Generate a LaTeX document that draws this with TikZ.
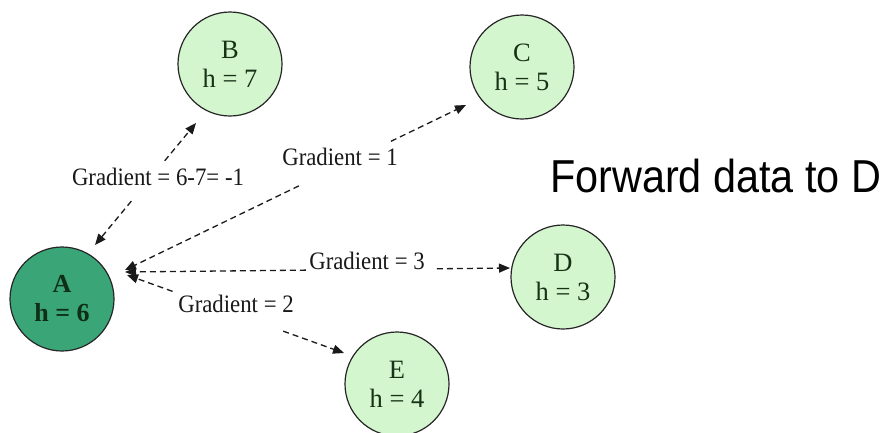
\documentclass[tikz,border=0pt]{standalone}
\usepackage{fontspec}
\setmainfont{Liberation Serif}
\newfontfamily\sansf{Liberation Sans}
\usetikzlibrary{arrows.meta,calc}
\definecolor{lightnode}{HTML}{D4F6CF}
\definecolor{darknode}{HTML}{3AA577}
\definecolor{nodetext}{HTML}{163316}
\definecolor{darktext}{HTML}{0E2E16}
\definecolor{edgecol}{HTML}{1A1A1A}
\newcommand{\tallish}[1]{\scalebox{1}[1.1]{#1}}
\begin{document}
\begin{tikzpicture}[x=1pt,y=-1pt,
  state/.style={circle,draw=black!85,line width=1.2pt,minimum size=104pt,inner sep=0pt,
    align=center,text=nodetext,font=\fontsize{26.5}{29}\selectfont},
  light/.style={state,fill=lightnode},
  dark/.style={state,fill=darknode,text=darktext,font=\fontsize{26}{29}\selectfont\bfseries},
  edge/.style={draw=edgecol,line width=1.3pt,dash pattern=on 6pt off 4pt,
    arrows={-Triangle[length=11pt,width=9pt]}},
  glabel/.style={font=\fontsize{22.8}{24}\selectfont,text=black!90,inner sep=0pt}
]
\useasboundingbox (0,0) rectangle (885,432);
\fill[white] (0,0) rectangle (885,432);

% nodes
\node[dark]  (A) at (62,299)  {A\\h = 6};
\node[light] (B) at (230,64)  {B\\h = 7};
\node[light] (C) at (522,67)  {C\\h = 5};
\node[light] (D) at (563,277) {D\\h = 3};
\node[light] (E) at (397,384) {E\\h = 4};

% connector end points
\coordinate (ab) at (95,245);
\coordinate (ba) at (196,123);
\coordinate (ac) at (125,270);
\coordinate (ca) at (466,105);
\coordinate (ad) at (125,272);
\coordinate (da) at (510,268);
\coordinate (ae) at (127,275);
\coordinate (ea) at (344,353);

% A -- B
\draw[edge] ($(ab)!0.36!(ba)$) -- (ab);
\draw[edge] ($(ab)!0.69!(ba)$) -- (ba);
% A -- C
\draw[edge] ($(ac)!0.51!(ca)$) -- (ac);
\draw[edge] ($(ac)!0.78!(ca)$) -- (ca);
% A -- D
\draw[edge] ($(ad)!0.47!(da)$) -- (ad);
\draw[edge] ($(ad)!0.81!(da)$) -- (da);
% A -- E
\draw[edge] ($(ae)!0.21!(ea)$) -- (ae);
\draw[edge] ($(ae)!0.72!(ea)$) -- (ea);

% labels
\node[glabel] (lab) at (158,177) {\tallish{Gradient = 6-7= -1}};
\node[glabel] (lac) at (340,157) {\tallish{Gradient = 1}};
\node[glabel] (lad) at (367,261) {\tallish{Gradient = 3}};
\node[glabel] (lae) at (236,304) {\tallish{Gradient = 2}};

\node[font=\sansf\fontsize{42}{46}\selectfont,anchor=base west,inner sep=0pt] (fw) at (550,192) {\scalebox{0.985}[1.1]{Forward data to D}};
\end{tikzpicture}
\end{document}
